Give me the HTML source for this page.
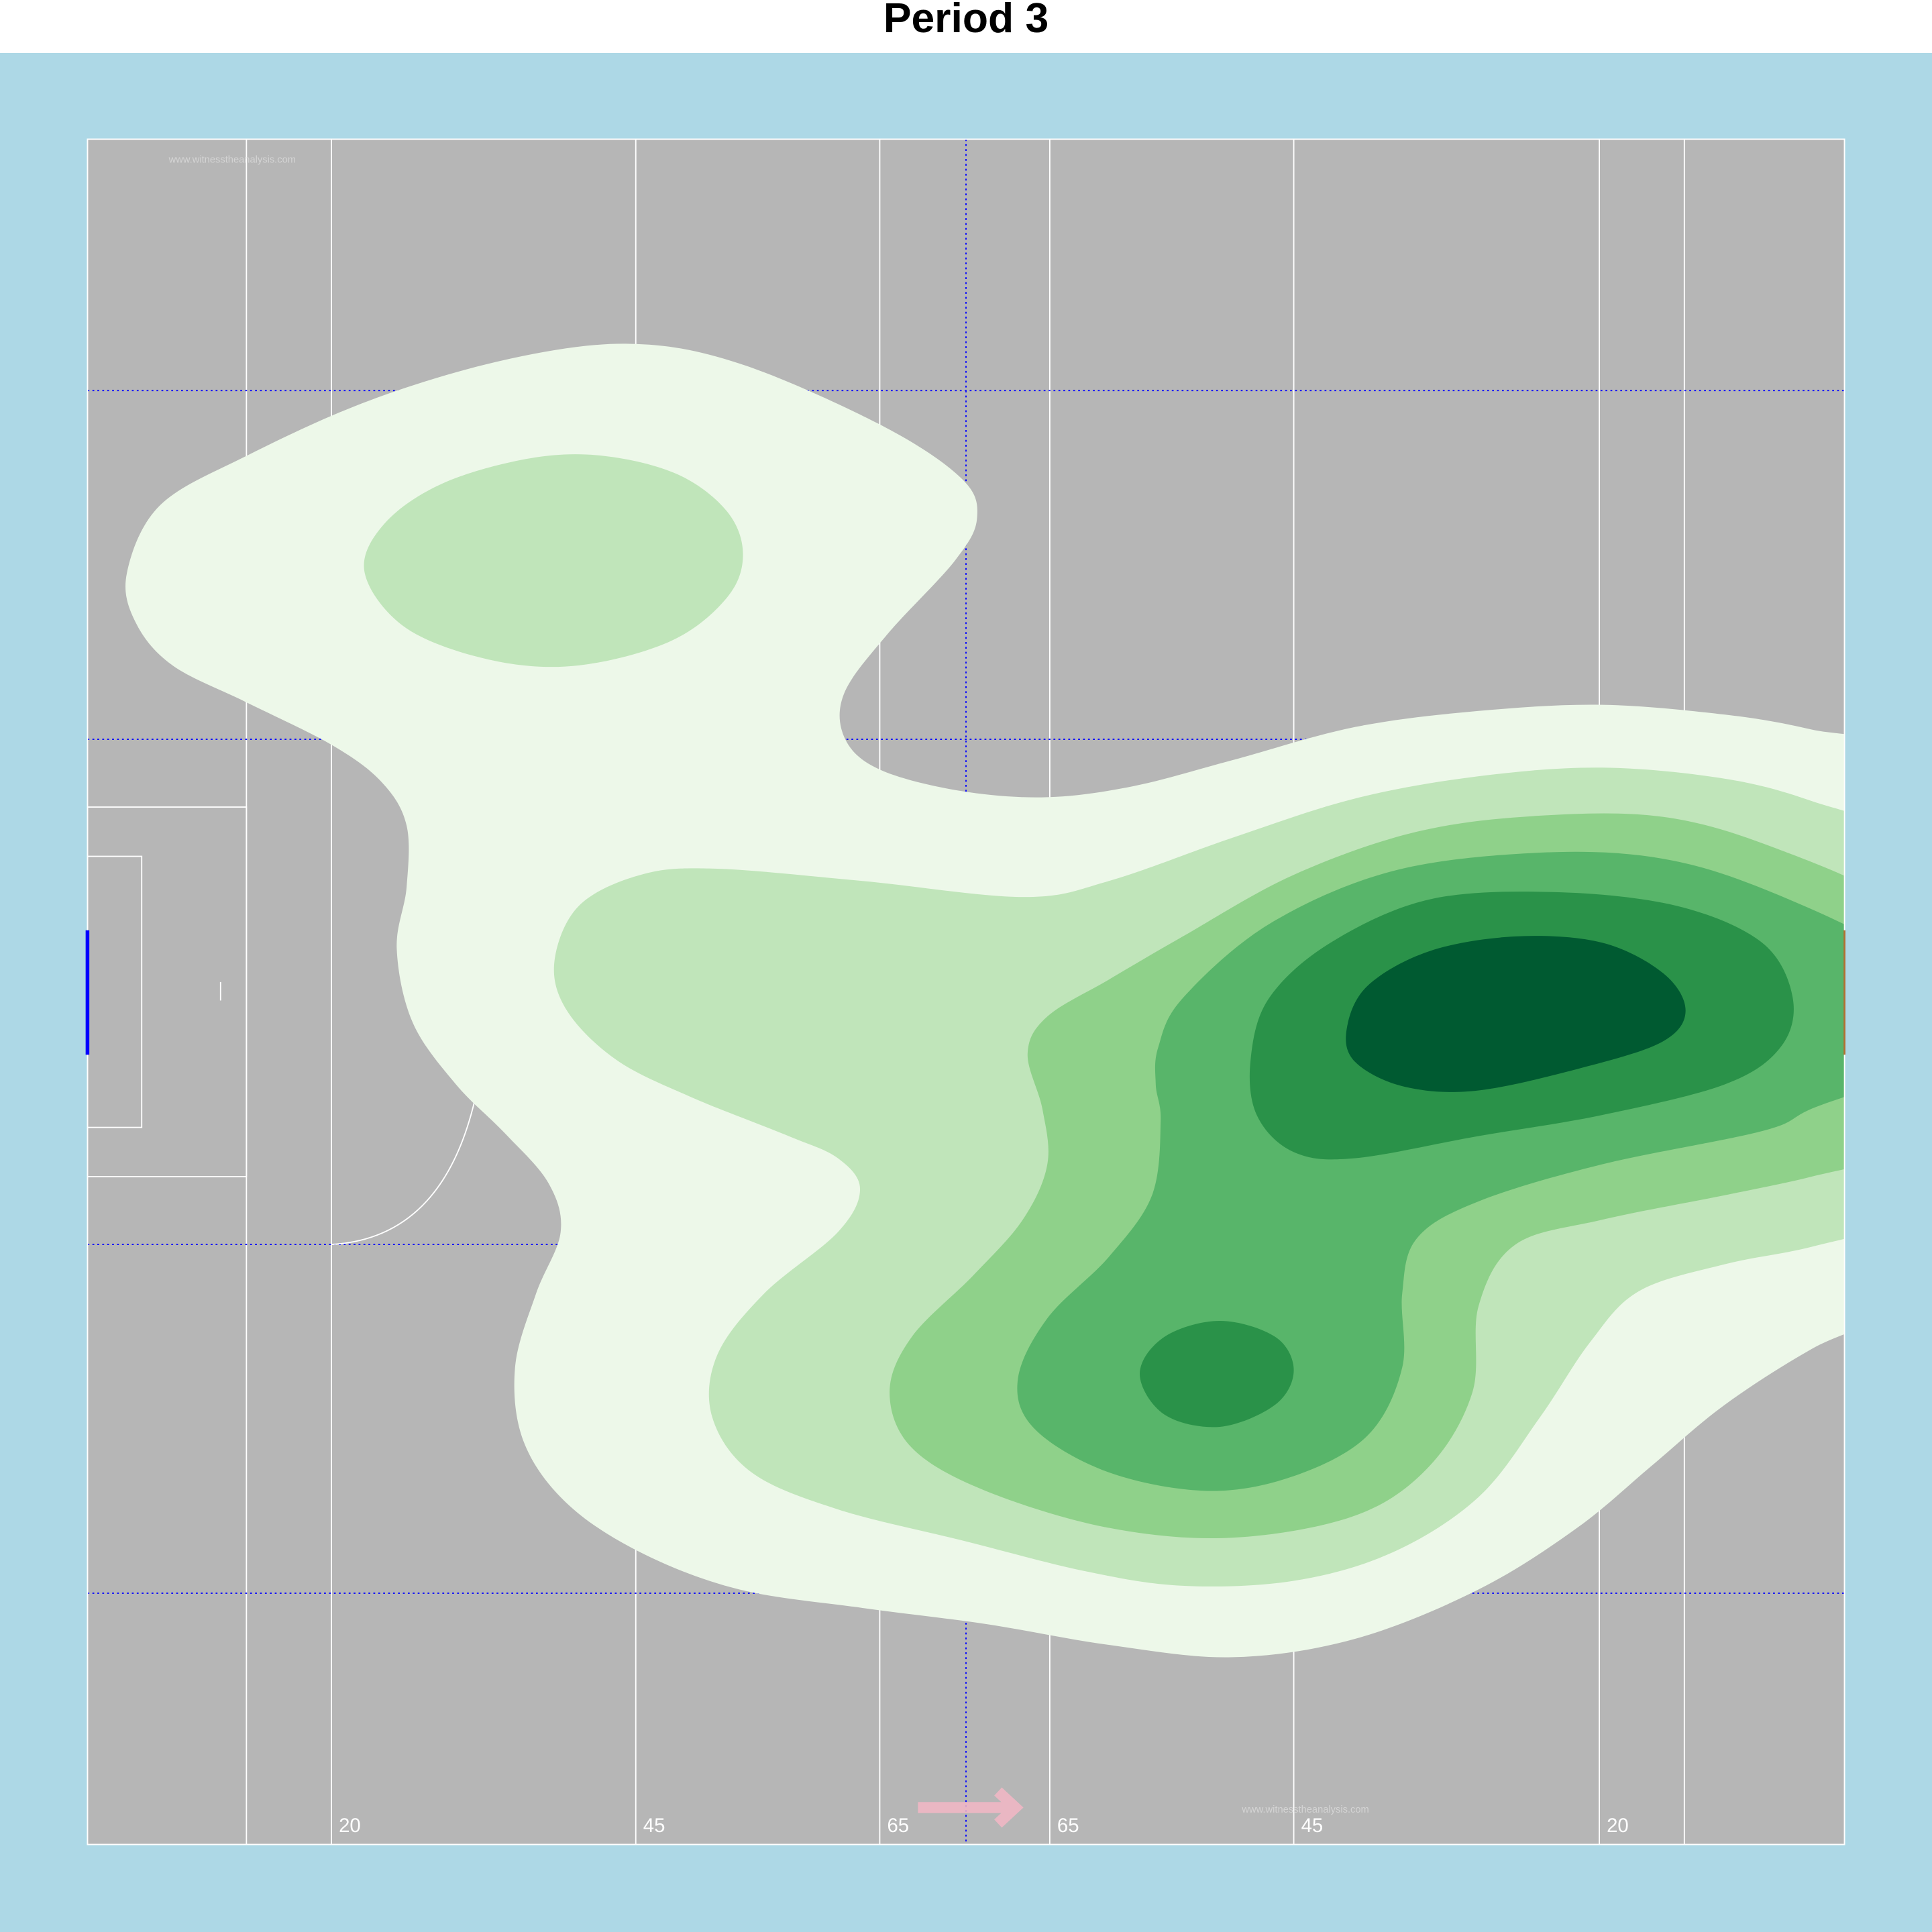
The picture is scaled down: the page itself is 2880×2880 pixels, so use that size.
<!DOCTYPE html>
<html><head><meta charset="utf-8"><style>
html,body{margin:0;padding:0;background:#fff}
svg{display:block}
</style></head><body>
<svg id="chart" width="2880" height="2880" viewBox="0 0 1568 1568" xmlns="http://www.w3.org/2000/svg">
<defs><clipPath id="fieldclip"><rect x="71" y="113" width="1426" height="1384"/></clipPath></defs>
<rect x="0" y="0" width="1568" height="43" fill="#ffffff"/>
<text x="784" y="26" text-anchor="middle" font-family="Liberation Sans, sans-serif" font-weight="bold" font-size="34">Period 3</text>
<rect x="0" y="43" width="1568" height="1525" fill="#add8e6"/>
<rect x="71" y="113" width="1426" height="1384" fill="#b6b6b6" stroke="#ffffff" stroke-width="1"/>
<g id="pitchlines" stroke="#ffffff" stroke-width="1" fill="none"></g>
<g id="contours" clip-path="url(#fieldclip)"></g>
<g id="overlay"></g>
</svg>
<script>
const NS='http://www.w3.org/2000/svg';
const vLines=[200,269,516,714,852,1050,1298,1367];
const hDotted=[317,600,1010,1293];
const yardLabels=['20','45','65','65','45','20'];
const labelX=[269,516,714,852,1050,1298];
const levelColors=['#edf8e9','#c0e5ba','#8fd18a','#58b56a','#2a9249','#005a31'];
const level1=[[103,465],[130,410],[200,370],[300,325],[410,292],[510,279],[600,295],[715,345],[780,388],[793,420],[775,455],[720,515],[685,563],[686,600],[715,625],[780,642],[850,647],[920,638],[1000,617],[1100,590],[1200,577],[1300,572],[1400,580],[1470,592],[1540,612],[1560,700],[1560,1000],[1540,1060],[1470,1095],[1400,1140],[1340,1190],[1280,1240],[1200,1290],[1100,1330],[1000,1345],[900,1335],[800,1318],[700,1305],[600,1290],[520,1260],[460,1220],[425,1170],[418,1110],[435,1050],[455,1000],[445,960],[410,920],[370,880],[335,830],[322,770],[330,720],[330,670],[310,635],[270,605],[200,570],[140,540],[110,505]];
const level2a=[[296,465],[312,425],[360,392],[430,372],[490,370],[550,385],[590,415],[603,450],[590,485],[545,520],[470,540],[400,536],[330,510]];
const level2b=[[450,780],[470,735],[520,710],[580,705],[700,715],[830,728],[900,715],[1000,680],[1100,648],[1200,630],[1300,623],[1400,632],[1470,650],[1540,680],[1560,750],[1560,950],[1540,990],[1470,1012],[1400,1026],[1330,1048],[1290,1090],[1250,1150],[1200,1215],[1130,1260],[1050,1283],[960,1287],[880,1275],[780,1250],[680,1225],[610,1195],[578,1150],[582,1100],[620,1050],[680,1000],[698,965],[680,940],[640,922],[560,890],[500,860],[460,820]];
const level3=[[834,855],[850,825],[900,795],[960,760],[1050,710],[1150,675],[1250,662],[1350,663],[1440,688],[1540,735],[1560,790],[1560,900],[1540,935],[1470,955],[1400,970],[1300,990],[1230,1010],[1200,1060],[1195,1130],[1160,1190],[1100,1230],[1000,1248],[900,1240],[800,1210],[740,1175],[722,1130],[740,1085],[790,1035],[830,990],[850,945],[846,900]];
const level4=[[940,850],[960,810],[1030,750],[1130,707],[1250,692],[1350,697],[1440,725],[1540,775],[1560,820],[1540,870],[1470,900],[1430,918],[1300,945],[1200,975],[1150,1005],[1138,1050],[1138,1110],[1110,1165],[1050,1198],[980,1210],[900,1195],[840,1160],[826,1120],[850,1070],[900,1020],[935,970],[942,910],[938,880]];
const level5a=[[1015,860],[1030,810],[1080,765],[1160,730],[1260,724],[1360,735],[1430,765],[1455,810],[1445,850],[1400,880],[1300,905],[1200,922],[1100,940],[1050,935],[1020,905]];
const level5b=[[925,1115],[945,1085],[990,1072],[1035,1085],[1050,1112],[1035,1140],[990,1158],[945,1148]];
const level6=[[1093,835],[1110,800],[1160,772],[1230,760],[1300,765],[1350,790],[1368,820],[1350,845],[1290,865],[1200,885],[1140,882],[1100,862]];
const layers=[[level1,0],[level2a,1],[level2b,1],[level3,2],[level4,3],[level5a,4],[level5b,4],[level6,5]];

function smooth(p){
  const n=p.length;let d='M'+p[0][0]+','+p[0][1];
  for(let i=0;i<n;i++){
    const p0=p[(i-1+n)%n],p1=p[i],p2=p[(i+1)%n],p3=p[(i+2)%n];
    const c1=[p1[0]+(p2[0]-p0[0])/6,p1[1]+(p2[1]-p0[1])/6];
    const c2=[p2[0]-(p3[0]-p1[0])/6,p2[1]-(p3[1]-p1[1])/6];
    d+=' C'+c1[0].toFixed(1)+','+c1[1].toFixed(1)+' '+c2[0].toFixed(1)+','+c2[1].toFixed(1)+' '+p2[0]+','+p2[1];
  }
  return d+'Z';
}
function mk(tag,attrs,parent){const e=document.createElementNS(NS,tag);for(const k in attrs)e.setAttribute(k,attrs[k]);parent.appendChild(e);return e;}

const pl=document.getElementById('pitchlines');
vLines.forEach(x=>{
  const l=mk('line',{x1:x,y1:113,x2:x,y2:1497},pl);
  
  
});
hDotted.forEach(y=>{
  const l=mk('line',{x1:71,y1:y,x2:1497,y2:y,stroke:'#0000ff','stroke-dasharray':'1.5,2.5'},pl);
  
  
});
const hv=mk('line',{x1:784,y1:113,x2:784,y2:1497,stroke:'#0000ff','stroke-dasharray':'1.5,2.5'},pl);


const big=mk('rect',{x:71,y:655,width:129,height:300},pl);


const small=mk('rect',{x:71,y:695,width:44,height:220},pl);


const pen=mk('line',{x1:179,y1:797,x2:179,y2:812},pl);


const arc=mk('path',{d:'M269,1010 Q360,1005 386,890'},pl);



const cg=document.getElementById('contours');
layers.forEach(([pts,lv])=>{
  const p=mk('path',{d:smooth(pts),fill:levelColors[lv]},cg);
  
  
});
const ov=document.getElementById('overlay');
const border=mk('rect',{x:71,y:113,width:1426,height:1384,fill:'none',stroke:'#ffffff','stroke-width':1},ov);


const lg=mk('line',{x1:71,y1:755,x2:71,y2:856,stroke:'#0000ff','stroke-width':3},ov);


const rg=mk('line',{x1:1497,y1:755,x2:1497,y2:856,stroke:'#b07030','stroke-width':1.5},ov);


yardLabels.forEach((t,i)=>{
  const e=mk('text',{x:labelX[i]+6,y:1487,fill:'#ffffff','font-size':16,'font-family':'Liberation Sans, sans-serif'},ov);
  e.textContent=t;
  
  
});
const w1=mk('text',{x:137,y:132,fill:'#d4d4d4','font-size':8,'font-family':'Liberation Sans, sans-serif'},ov);
w1.textContent='www.witnesstheanalysis.com';


const w2=mk('text',{x:1008,y:1471,fill:'#d4d4d4','font-size':8,'font-family':'Liberation Sans, sans-serif'},ov);
w2.textContent='www.witnesstheanalysis.com';


const ar=mk('g',{opacity:0.85},ov);


mk('line',{x1:745,y1:1467,x2:822,y2:1467,stroke:'#f4b8c6','stroke-width':9},ar);
mk('polyline',{points:'810,1454 824,1467 810,1480',stroke:'#f4b8c6','stroke-width':9,fill:'none'},ar);
</script>
</body></html>
